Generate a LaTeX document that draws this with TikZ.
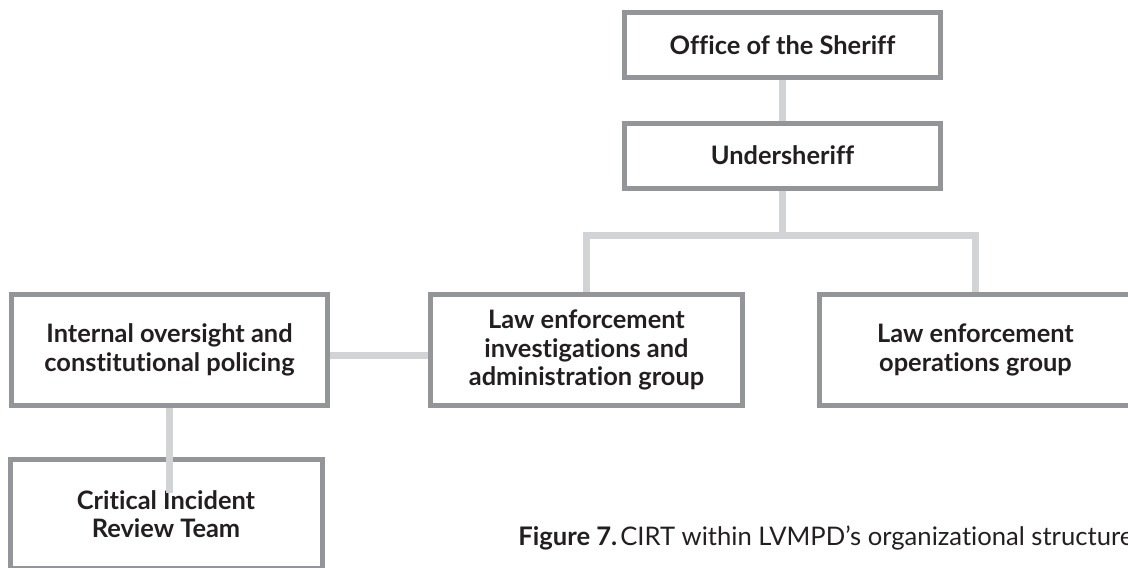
\documentclass[tikz,border=0pt]{standalone}
\usepackage{fontspec}
\setmainfont{Lato}[Ligatures=NoCommon]
\usepackage{tikz}
\usetikzlibrary{positioning}
\definecolor{boxgray}{HTML}{939598}
\definecolor{linkgray}{HTML}{D1D3D4}
\definecolor{inkblack}{HTML}{231F20}
\begin{document}
\begin{tikzpicture}[x=0.5pt,y=-0.5pt]
        \useasboundingbox (0,0) rectangle (1128,567);
        \tikzstyle{box} = [draw=boxgray, line width=2.5pt, fill=white, align=center,
            text=inkblack, font=\bfseries\fontsize{12.7}{14.3}\selectfont,
            minimum width=158pt, minimum height=32.5pt, inner sep=0pt]
        \tikzstyle{tall} = [minimum height=55.5pt]
        \tikzstyle{link} = [draw=linkgray, line width=3.5pt]
        \node[box] (sheriff) at (782.5,45) {Office of the Sheriff};
        \node[box] (under) at (782.5,155.5) {Undersheriff};
        \node[box, tall, minimum width=156pt] (invest) at (586.5,350) {Law enforcement\\investigations and\\administration group};
        \node[box, tall, minimum width=156pt] (ops) at (975.5,350) {Law enforcement\\operations group};
        \node[box, tall] (oversight) at (169.5,350) {Internal oversight and\\constitutional policing};
        \node[box, tall, minimum width=156pt, minimum height=54.5pt] (cirt) at (166,514) {Critical Incident\\Review Team};
        \coordinate (branch) at (782.5,235);
        \coordinate (cirttop) at (169.5,493);
        \draw[link] (sheriff.south)--(under.north);
        \draw[link] (under.south)--(branch);
        \draw[link] (invest.north) |- (branch) -| (ops.north);
        \draw[link] ([yshift=-2.5pt]oversight.east)--([yshift=-2.5pt]invest.west);
        \draw[link] (oversight.south)--(cirttop);
        \node[anchor=base west, text=inkblack, font=\fontsize{12.8}{14}\selectfont, inner sep=0pt] (caption) at (518,545) {\textbf{Figure 7.}\hspace{1.5pt}CIRT within LVMPD’s organizational structure};
\end{tikzpicture}
\end{document}
